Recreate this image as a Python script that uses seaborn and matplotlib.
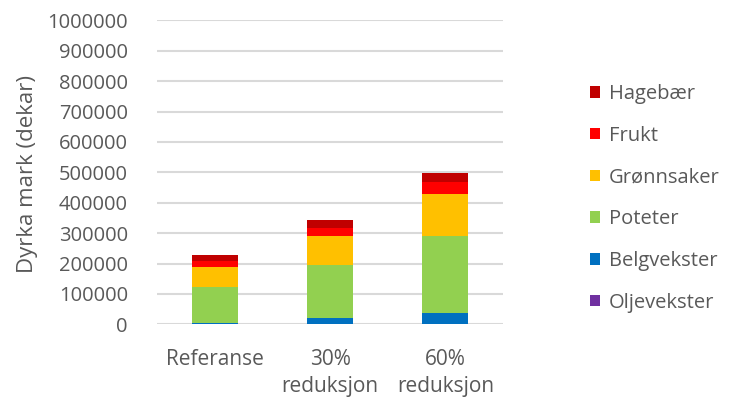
# Stacked bars: dyrka mark per scenario
import matplotlib
matplotlib.use('Agg')
import matplotlib.pyplot as plt
from matplotlib.patches import Patch
import pandas as pd
import seaborn as sns

# Data (dekar)
scenarios = ['Referanse', '30%\nreduksjon', '60%\nreduksjon']
oljevekster = [1000, 1000, 1000]
belgvekster = [4000, 21000, 35000]
poteter = [118000, 172000, 256000]
gronnsaker = [66000, 96000, 138000]
frukt = [20000, 28000, 37000]
hagebaer = [20000, 24000, 30000]

crops = ['Oljevekster', 'Belgvekster', 'Poteter', 'Grønnsaker', 'Frukt', 'Hagebær']
colors = ['#7030A0', '#0070C0', '#92D050', '#FFC000', '#FF0000', '#C00000']

df = pd.DataFrame({
    'scenario': scenarios,
    'Oljevekster': oljevekster,
    'Belgvekster': belgvekster,
    'Poteter': poteter,
    'Grønnsaker': gronnsaker,
    'Frukt': frukt,
    'Hagebær': hagebaer,
})

# cumulative sums so the bars can be drawn on top of each other
cum = df[crops].cumsum(axis=1)
cum['scenario'] = df['scenario']

sns.set_style('white')
plt.rcParams['font.family'] = ['Open Sans', 'DejaVu Sans']
text_col = '#595959'

fig = plt.figure(figsize=(7.29, 3.99), dpi=100)
ax = fig.add_axes([0.2154, 0.187, 0.4746, 0.762])

# draw tallest stack first, then smaller ones over it
for crop, col in reversed(list(zip(crops, colors))):
    sns.barplot(x='scenario', y=crop, data=cum, color=col, width=0.4,
                saturation=1, ax=ax, linewidth=0)

ax.set_ylim(0, 1000000)
ax.set_xlim(-0.5, 2.5)
ax.set_yticks(range(0, 1000001, 100000))
ax.set_yticklabels([str(v) for v in range(0, 1000001, 100000)])
ax.grid(axis='y', color='#D9D9D9', linewidth=1.5)
ax.set_axisbelow(True)
for s in ax.spines.values():
    s.set_visible(False)
ax.tick_params(axis='y', length=0, labelsize=14.5, colors=text_col, pad=21)
ax.tick_params(axis='x', length=0, labelsize=15, colors=text_col, pad=18)
for lbl in ax.get_xticklabels():
    lbl.set_linespacing(1.35)

ax.set_xlabel('')
ax.set_ylabel('Dyrka mark (dekar)', fontsize=16, color=text_col)
ax.yaxis.set_label_coords(-0.345, 0.493)

handles = [Patch(facecolor=c, edgecolor='none') for c in colors][::-1]
fig.legend(handles, crops[::-1], loc='upper left',
           bbox_to_anchor=(590 / 729, 1 - 84 / 399), frameon=False,
           borderpad=0, borderaxespad=0,
           fontsize=14.5, labelcolor=text_col, labelspacing=1.08,
           handlelength=0.5, handleheight=0.5, handletextpad=0.45)

plt.savefig('out.png', dpi=100)
